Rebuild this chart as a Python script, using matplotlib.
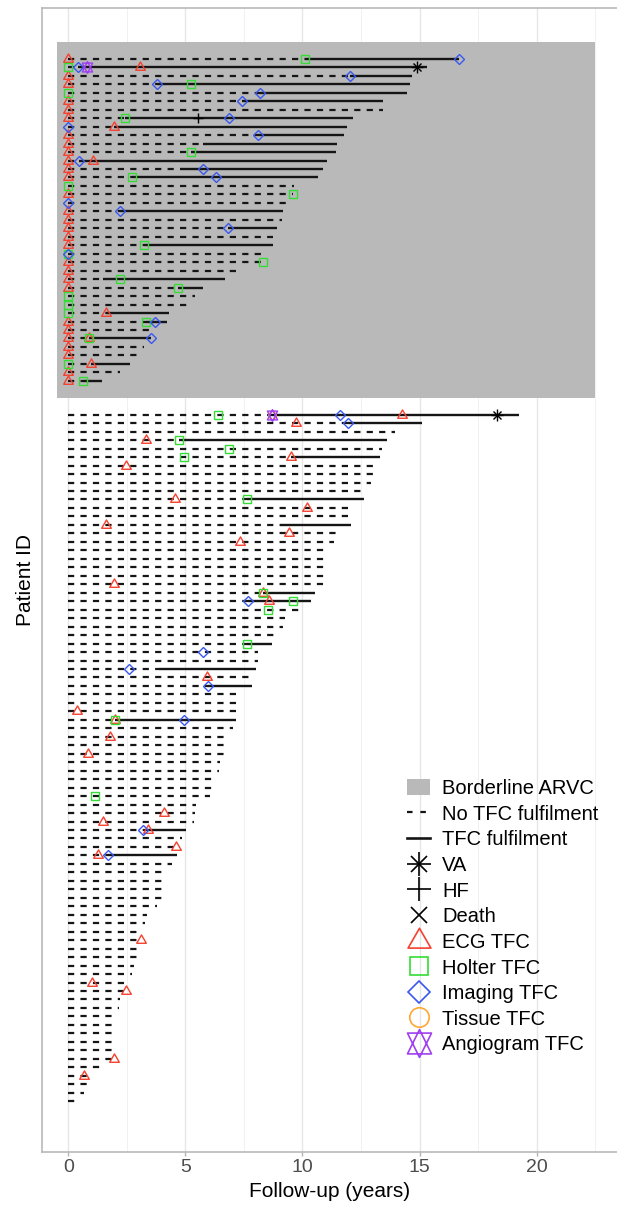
import numpy as np
import matplotlib
matplotlib.use("Agg")
import matplotlib.pyplot as plt
from matplotlib.lines import Line2D
from matplotlib.patches import Patch, Rectangle
from matplotlib.path import Path
from matplotlib.legend_handler import HandlerTuple

plt.rcParams['font.family'] = ['Liberation Sans', 'DejaVu Sans']
nan = np.nan

# ---------------- data ----------------
# Borderline ARVC patients (top block, listed top to bottom)
borderline_end = [16.70, 15.30, 14.66, 14.59, 14.48, 13.44, 13.44, 12.17, 11.90, 11.79,
                  11.49, 11.43, 11.06, 10.86, 10.68, 9.65, 9.61, 9.40, 9.18, 9.14,
                  8.90, 8.76, 8.76, 8.30, 8.35, 7.26, 6.71, 5.74, 5.41, 5.10,
                  4.30, 4.20, 3.49, 3.54, 3.24, 2.92, 2.64, 2.20, 1.43]
borderline_tfc = [10.11, 0.43, 12.03, 3.78, 8.19, 7.43, nan, 2.41, 1.95, 8.09,
                  5.76, 5.24, 0.46, 4.77, 2.71, nan, nan, nan, 2.23, nan,
                  6.81, nan, 3.24, nan, nan, nan, 1.50, 4.70, nan, nan,
                  1.61, 3.34, nan, 0.89, nan, nan, 0.97, nan, 0.62]

# Other patients (bottom block, listed top to bottom)
other_end = [19.23, 15.11, 13.97, 13.61, 13.41, 13.32, 13.09, 13.09, 12.93, 12.59,
             12.64, 12.06, 12.06, 12.08, 11.53, 11.34, 10.96, 10.96, 10.96, 10.96,
             10.86, 10.54, 10.35, 9.89, 9.25, 9.18, 8.82, 8.71, 8.11, 8.11,
             8.02, 7.79, 7.84, 7.24, 7.24, 7.24, 7.16, 7.04, 6.71, 6.69,
             6.69, 6.48, 6.45, 6.16, 6.16, 6.05, 5.45, 5.41, 5.38, 5.02,
             4.84, 4.62, 4.65, 4.41, 4.06, 4.06, 4.06, 3.99, 3.78, 3.37,
             3.29, 2.92, 3.09, 2.95, 2.95, 2.82, 2.74, 2.43, 2.47, 2.20,
             2.17, 1.89, 1.89, 1.89, 1.89, 1.89, 1.95, 1.36, 0.80, 0.82,
             0.67, 0.30]
other_tfc = [8.68, 11.93, nan, 4.71, nan, 9.51, nan, nan, nan, nan,
             7.65, nan, nan, 9.06, nan, nan, nan, nan, nan, nan,
             nan, 8.30, 7.69, nan, nan, nan, nan, 7.65, nan, nan,
             3.89, nan, 5.95, nan, nan, nan, 1.98, nan, nan, nan,
             nan, nan, nan, nan, nan, nan, nan, nan, nan, 3.41,
             nan, nan, 1.71, nan, nan, nan, nan, nan, nan, nan,
             nan, nan, nan, nan, nan, nan, nan, nan, nan, nan,
             nan, nan, nan, nan, nan, nan, nan, nan, nan, nan,
             nan, nan]

# Events: patient index (0-38 borderline, 39-120 others) and time (years)
ecg_id = [0, 1, 2, 3, 5, 6, 7, 8, 9, 10, 11, 12, 12, 13, 14, 16, 18, 19, 20, 21, 22,
          24, 25, 26, 27, 30, 31, 32, 33, 33, 34, 35, 36, 37, 38,
          39, 40, 42, 44, 45, 49, 50, 52, 53, 54, 59, 60, 61, 70, 74, 75, 77, 79,
          86, 87, 88, 90, 91, 101, 106, 107, 115, 117]
ecg_t = [0, 3.06, 0, 0, 0, 0, 0, 1.95, 0, 0, 0, 0, 1.05, 0, 0, 0, 0, 0, 0, 0, 0,
         0, 0, 0, 0, 1.61, 0, 0, 0, 0.89, 0, 0, 0.97, 0, 0,
         14.27, 9.71, 3.31, 9.51, 2.48, 4.57, 10.18, 1.62, 9.44, 7.33, 1.95, 8.30, 8.57,
         5.91, 0.39, 1.98, 1.78, 0.86, 4.09, 1.50, 3.41, 4.58, 1.29, 3.09, 1.00, 2.47,
         1.94, 0.69]
holter_id = [0, 1, 3, 4, 7, 11, 14, 15, 16, 22, 23, 24, 26, 27, 28, 29, 30, 31, 33, 36, 38,
             39, 42, 43, 44, 49, 60, 61, 62, 66, 75, 84]
holter_t = [10.11, 0, 5.23, 0, 2.41, 5.24, 2.71, 0, 9.58, 3.24, 0, 8.33, 2.19, 4.70, 0, 0,
            0, 3.34, 0.89, 0, 0.62,
            6.41, 4.71, 6.88, 4.96, 7.65, 8.30, 9.61, 8.51, 7.65, 1.98, 1.14]
imaging_id = [0, 1, 2, 3, 4, 5, 7, 8, 9, 12, 13, 14, 17, 18, 20, 23, 31, 33,
              39, 40, 61, 67, 69, 71, 75, 88, 91]
imaging_t = [16.70, 0.43, 12.03, 3.78, 8.19, 7.43, 6.85, 0, 8.09, 0.46, 5.76, 6.31, 0,
             2.23, 6.81, 0, 3.71, 3.54,
             11.61, 11.93, 7.69, 5.76, 2.59, 5.95, 4.96, 3.20, 1.71]
tissue_id = [39]
tissue_t = [8.68]
angio_id = [1, 39]
angio_t = [0.78, 8.68]
va_id = [1, 39]
va_t = [14.87, 18.29]
hf_id = [7]
hf_t = [5.55]
death_id = []
death_t = []

x_ticks = [0, 5, 10, 15, 20]

# ---------------- style ----------------
c_ecg = "#F5412F"
c_holter = "#33DD33"
c_img = "#3A58F0"
c_tissue = "#FFA833"
c_angio = "#A040F0"
c_rect = "#B9B9B9"
line_c = "#151515"
lw = 1.6
dash = (0, (2.8, 2.8))

# R-style open triangle (centred on circumcentre) and "triangles up and down"
tri = Path([(0, 1), (-0.866, -0.5), (0.866, -0.5), (0, 1)],
           [Path.MOVETO, Path.LINETO, Path.LINETO, Path.CLOSEPOLY])
hexa = Path([(0, 1), (-0.866, -0.75), (0.866, -0.75), (0, 1),
             (0, -1), (-0.866, 0.75), (0.866, 0.75), (0, -1)],
            [Path.MOVETO, Path.LINETO, Path.LINETO, Path.CLOSEPOLY] * 2)

n_bl = len(borderline_end)
n_ot = len(other_end)
gap = 3


def ypos(i):
    i = np.asarray(i)
    return np.where(i < n_bl, n_ot + gap + n_bl - i, n_ot - (i - n_bl))


fig = plt.figure(figsize=(6.17, 12.09), dpi=100)
W, H = 617, 1209
ax = fig.add_axes([42 / W, (H - 1152) / H, (W - 42) / W, (1152 - 8) / H])
ax.set_xlim(-1.12, 23.43)
ax.set_ylim(-5.0, 130.0)

# grid
ax.set_xticks(x_ticks)
ax.set_xticks([2.5, 7.5, 12.5, 17.5, 22.5], minor=True)
ax.grid(which='major', axis='x', color='#E6E6E6', lw=1.0, zorder=0)
ax.grid(which='minor', axis='x', color='#EFEFEF', lw=0.6, zorder=0)
ax.set_axisbelow(True)

# borderline block background
top_y = ypos(0)
bot_y = ypos(n_bl - 1)
ax.add_patch(Rectangle((-0.5, bot_y - 2), 23.0, (top_y + 2) - (bot_y - 2),
                       facecolor=c_rect, edgecolor='none', zorder=1))

# follow-up lines
ends = list(borderline_end) + list(other_end)
tfcs = list(borderline_tfc) + list(other_tfc)
for i, (e, t) in enumerate(zip(ends, tfcs)):
    y = float(ypos(i))
    if np.isnan(t):
        ax.plot([0, e], [y, y], color=line_c, lw=lw, ls=dash, zorder=2,
                dash_capstyle='butt')
    else:
        if t > 0:
            ax.plot([0, t], [y, y], color=line_c, lw=lw, ls=dash, zorder=2,
                    dash_capstyle='butt')
        ax.plot([t, e], [y, y], color=line_c, lw=lw + 0.1, ls='-', zorder=2,
                solid_capstyle='butt')

mk = dict(ls='none', mfc='none', zorder=3)
ax.plot(ecg_t, ypos(ecg_id), marker=tri, ms=8.0, mec=c_ecg, mew=1.0, **mk)
ax.plot(holter_t, ypos(holter_id), marker='s', ms=5.6, mec=c_holter, mew=1.0, **mk)
ax.plot(imaging_t, ypos(imaging_id), marker='D', ms=4.8, mec=c_img, mew=1.0, **mk)
ax.plot(tissue_t, ypos(tissue_id), marker='o', ms=5.5, mec=c_tissue, mew=1.0, **mk)
ax.plot(angio_t, ypos(angio_id), marker=hexa, ms=8.5, mec=c_angio, mew=1.0, **mk)
ax.plot(va_t, ypos(va_id), marker='+', ms=8, mec='k', mew=1.0, **mk)
ax.plot(va_t, ypos(va_id), marker='x', ms=6, mec='k', mew=1.0, **mk)
ax.plot(hf_t, ypos(hf_id), marker='+', ms=7.5, mec='k', mew=1.0, **mk)
if death_t:
    ax.plot(death_t, ypos(death_id), marker='x', ms=6, mec='k', mew=1.0, **mk)

# axes styling
for s in ['left', 'bottom', 'top']:
    ax.spines[s].set_color('#B3B3B3')
    ax.spines[s].set_linewidth(1.1)
ax.spines['right'].set_visible(False)
ax.set_yticks([])
ax.tick_params(axis='x', which='major', length=3, width=1.0, color='#B3B3B3',
               labelsize=14, labelcolor='#4D4D4D', pad=2)
ax.tick_params(axis='x', which='minor', length=0)
ax.set_xlabel('Follow-up (years)', fontsize=15)
ax.set_ylabel('Patient ID', fontsize=15)
ax.yaxis.set_label_coords(-0.012, 0.5)
ax.xaxis.set_label_coords(0.5, -0.026)

# legend
ms_l = dict(ls='none', mfc='none', mew=1.2)
handles = [
    Patch(facecolor=c_rect, edgecolor='none'),
    Line2D([], [], color=line_c, lw=lw, ls=(0, (2.5, 3.5))),
    Line2D([], [], color=line_c, lw=lw + 0.3),
    (Line2D([], [], marker='+', ms=17, mec='k', **ms_l),
     Line2D([], [], marker='x', ms=12, mec='k', **ms_l)),
    Line2D([], [], marker='+', ms=17, mec='k', **ms_l),
    Line2D([], [], marker='x', ms=12, mec='k', **ms_l),
    Line2D([], [], marker=tri, ms=19, mec=c_ecg, **ms_l),
    Line2D([], [], marker='s', ms=13, mec=c_holter, **ms_l),
    Line2D([], [], marker='D', ms=11.5, mec=c_img, **ms_l),
    Line2D([], [], marker='o', ms=14, mec=c_tissue, **ms_l),
    Line2D([], [], marker=hexa, ms=20, mec=c_angio, **ms_l),
]
labels = ['Borderline ARVC', 'No TFC fulfilment', 'TFC fulfilment', 'VA', 'HF', 'Death',
          'ECG TFC', 'Holter TFC', 'Imaging TFC', 'Tissue TFC', 'Angiogram TFC']
fig.legend(handles, labels, loc='upper left',
           bbox_to_anchor=(407 / W, 1 - 779 / H), frameon=False, fontsize=14.5,
           handlelength=1.15, handleheight=0.8, handletextpad=0.6, labelspacing=0.33,
           borderpad=0, borderaxespad=0,
           handler_map={tuple: HandlerTuple(ndivide=1, pad=0)})

fig.savefig('out.png', dpi=100)
